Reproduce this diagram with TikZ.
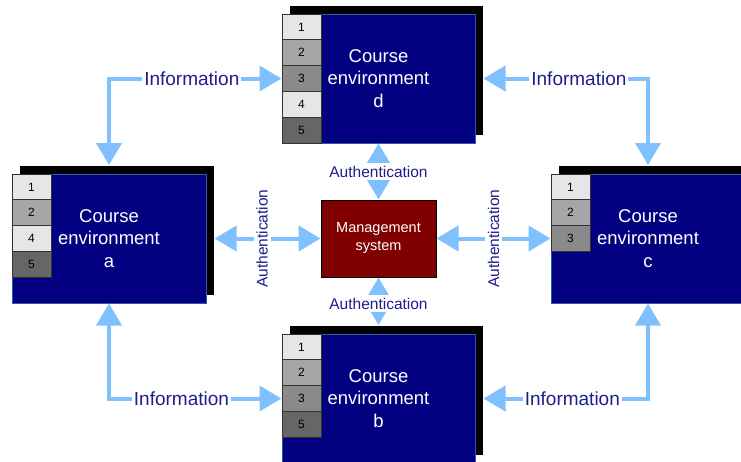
\documentclass[tikz,border=0pt]{standalone}
\usepackage{fontspec}
\setmainfont{Liberation Sans}
\usepackage{tikz}
\usetikzlibrary{arrows.meta,shadows}
\definecolor{courseblue}{HTML}{000080}
\definecolor{courseedge}{HTML}{2A5AA8}
\definecolor{mgmtred}{HTML}{800000}
\definecolor{linkblue}{HTML}{80C0FF}
\definecolor{labelblue}{HTML}{1E1E8C}
\definecolor{tabA}{HTML}{E6E6E6}
\definecolor{tabB}{HTML}{A6A6A6}
\definecolor{tabC}{HTML}{8A8A8A}
\definecolor{tabD}{HTML}{666666}
\tikzstyle{Course}=[rectangle, fill=courseblue, draw=courseedge, line width=1pt, minimum width=193, minimum height=129, text=white, align=center, font=\fontsize{18.5}{22.5}\selectfont, general shadow={fill=black, shadow xshift=8pt, shadow yshift=8.5pt}]
\tikzstyle{Tab}=[rectangle, draw=black!80, line width=1pt, minimum width=39, minimum height=25.8, inner sep=0, anchor=north west, font=\fontsize{12}{12}\selectfont]
\tikzstyle{Mgmt}=[rectangle, fill=mgmtred, draw=black, line width=1pt, minimum width=115, minimum height=77, text=white, align=center, font=\fontsize{14.5}{18}\selectfont]
\tikzstyle{Link}=[draw=linkblue, line width=4pt, {Triangle[length=22pt,width=25pt]}-{Triangle[length=22pt,width=25pt]}]
\tikzstyle{Info}=[fill=white, text=labelblue, inner sep=2pt, font=\fontsize{19}{19}\selectfont]
\tikzstyle{Auth}=[fill=white, text=labelblue, inner sep=3pt, font=\fontsize{15.5}{15.5}\selectfont]

\begin{document}
\begin{tikzpicture}[x=1pt, y=-1pt]
    \clip (0,0) rectangle (741,461);
    \path
    (109,238.5) node[Course, minimum width=194] (a) {Course\\environment\\a}
    (378.5,398.5) node[Course] (b) {Course\\environment\\b}
    (648,238.5) node[Course, minimum width=194] (c) {Course\\environment\\c}
    (378.5,78.5) node[Course] (d) {Course\\environment\\d};

    \path (378.5,238.5) node[Mgmt] (mgmt) {Management\\system};

    % numbered tabs on the left of each course box
    \foreach \bx/\tabs in {a/{1/tabA,2/tabB,4/tabA,5/tabD}, b/{1/tabA,2/tabB,3/tabC,5/tabD}, c/{1/tabA,2/tabB,3/tabC}, d/{1/tabA,2/tabB,3/tabC,4/tabA,5/tabD}}
        \foreach \num/\col [count=\i] in \tabs
            \node[Tab, fill=\col] (\bx\num) at ([yshift={-(\i-1)*25.8pt}]\bx.north west) {\num};

    \draw[Link] ([yshift=8.5pt]a.north) |- node[Info, pos=0.74] (infoAD) {Information} (d.west);
    \draw[Link] ([xshift=8pt]d.east) -| node[Info, pos=0.29] (infoDC) {Information} ([yshift=8.5pt]c.north);
    \draw[Link] (a.south) |- node[Info, pos=0.71] (infoAB) {Information} (b.west);
    \draw[Link] ([xshift=8pt]b.east) -| node[Info, pos=0.27] (infoBC) {Information} (c.south);

    \draw[Link] ([xshift=8pt]a.east) -- node[Auth, rotate=90, pos=0.45] (authA) {Authentication} (mgmt.west);
    \draw[Link] (mgmt.east) -- node[Auth, rotate=90] (authC) {Authentication} (c.west);
    \draw[Link] (d.south) -- node[Auth] (authD) {Authentication} (mgmt.north);
    \draw[Link] (mgmt.south) -- node[Auth, pos=0.55] (authB) {Authentication} ([yshift=8.5pt]b.north);
\end{tikzpicture}
\end{document}
